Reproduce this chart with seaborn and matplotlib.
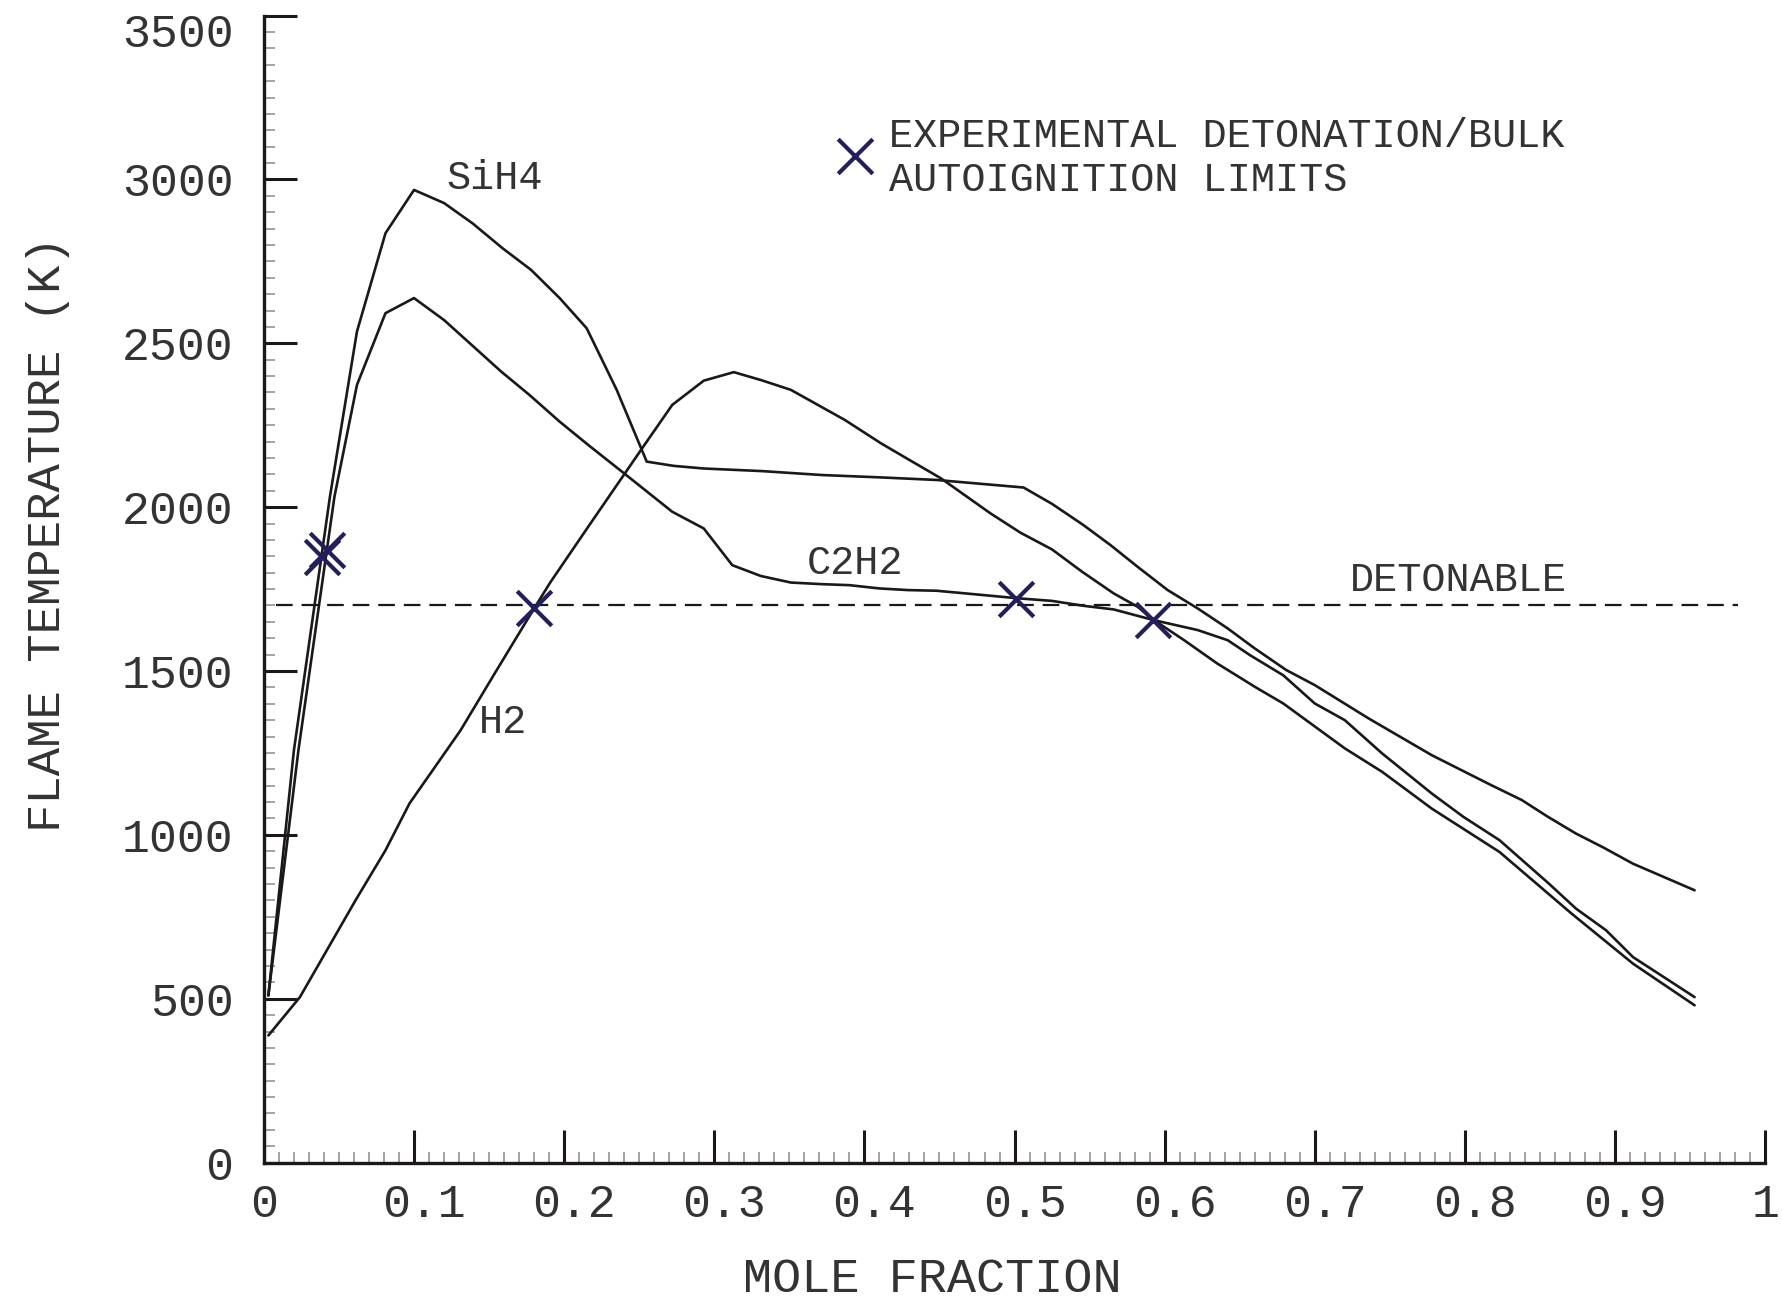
import numpy as np
import pandas as pd
import matplotlib
matplotlib.use("Agg")
import matplotlib.pyplot as plt
import matplotlib.transforms as mtransforms
import seaborn as sns


# Flame temperature vs mole fraction.

sih4_x = [0.003, 0.020, 0.044, 0.062, 0.081, 0.100, 0.120, 0.139, 0.159, 0.178,
          0.197, 0.215, 0.235, 0.255, 0.273, 0.293, 0.332, 0.372, 0.410, 0.448,
          0.506, 0.525, 0.546, 0.564, 0.582, 0.602, 0.622, 0.642, 0.660, 0.681,
          0.700, 0.736, 0.778, 0.817, 0.838, 0.855, 0.874, 0.892, 0.912, 0.953]
sih4_T = [510, 1258, 2032, 2536, 2836, 2968, 2928, 2866, 2790, 2724,
          2638, 2546, 2358, 2139, 2126, 2118, 2110, 2098, 2091, 2083,
          2060, 2010, 1945, 1884, 1818, 1747, 1691, 1630, 1569, 1503,
          1457, 1355, 1243, 1153, 1106, 1056, 1004, 962, 912, 831]

c2h2_x = [0.003, 0.023, 0.047, 0.062, 0.081, 0.100, 0.120, 0.158, 0.177, 0.197,
          0.216, 0.240, 0.272, 0.293, 0.312, 0.331, 0.351, 0.372, 0.390, 0.410,
          0.429, 0.448, 0.467, 0.502, 0.525, 0.546, 0.566, 0.593, 0.622, 0.642,
          0.657, 0.679, 0.700, 0.720, 0.745, 0.778, 0.799, 0.823, 0.856, 0.874,
          0.894, 0.912, 0.953]
c2h2_T = [510, 1258, 2032, 2373, 2592, 2638, 2571, 2414, 2342, 2261,
          2190, 2103, 1986, 1935, 1823, 1790, 1770, 1765, 1762, 1752,
          1747, 1745, 1737, 1722, 1714, 1699, 1688, 1655, 1625, 1594,
          1548, 1487, 1401, 1350, 1248, 1126, 1055, 984, 851, 775,
          709, 627, 505]

h2_x = [0.003, 0.024, 0.061, 0.081, 0.097, 0.131, 0.153, 0.180, 0.191, 0.216,
        0.252, 0.272, 0.293, 0.313, 0.331, 0.351, 0.387, 0.411, 0.430, 0.451,
        0.484, 0.504, 0.525, 0.545, 0.566, 0.582, 0.593, 0.613, 0.635, 0.653,
        0.660, 0.679, 0.720, 0.745, 0.778, 0.823, 0.871, 0.912, 0.953]
h2_T = [388, 505, 800, 953, 1096, 1319, 1487, 1691, 1772, 1940,
        2180, 2312, 2386, 2412, 2388, 2358, 2266, 2195, 2144, 2088,
        1981, 1922, 1871, 1803, 1737, 1696, 1655, 1594, 1523, 1472,
        1452, 1401, 1264, 1192, 1080, 948, 760, 607, 480]

# experimental detonation / bulk autoignition limits
limit_x = [0.039, 0.042, 0.180, 0.501, 0.592]
limit_T = [1848, 1869, 1691, 1719, 1657]

detonable_T = 1700
detonable_span = [0.008, 0.982]

x_ticks = [0, 0.1, 0.2, 0.3, 0.4, 0.5, 0.6, 0.7, 0.8, 0.9, 1]
x_ticklabels = ["0", "0.1", "0.2", "0.3", "0.4", "0.5", "0.6", "0.7", "0.8", "0.9", "1"]
y_ticks = [0, 500, 1000, 1500, 2000, 2500, 3000, 3500]


sns.set_theme(style="ticks")
plt.rcParams['font.family'] = ['Liberation Mono', 'DejaVu Sans Mono']

ink = '#1b1817'
navy = '#231e5e'
txt = '#333333'

fig = plt.figure(figsize=(17.83, 12.99), dpi=100)
fig.patch.set_facecolor('white')
ax = fig.add_axes([0.148, 0.105, 0.842, 0.883])
ax.set_facecolor('white')

for xs, ts in [(sih4_x, sih4_T), (c2h2_x, c2h2_T), (h2_x, h2_T)]:
    sns.lineplot(x=xs, y=ts, sort=False, estimator=None, color=ink,
                 linewidth=1.9, ax=ax)

ax.hlines(detonable_T, detonable_span[0], detonable_span[1], colors=ink,
          linewidth=1.6, linestyles=(0, (7.5, 4)))

sns.scatterplot(x=limit_x, y=limit_T, marker='x', s=620, color=navy,
                linewidth=3.0, ax=ax, zorder=5)

# legend symbol + text
ax.scatter([0.394], [3072], marker='x', s=620, color=navy, linewidth=3.0, zorder=5)
ax.text(0.4167, 3066, "EXPERIMENTAL DETONATION/BULK\nAUTOIGNITION LIMITS",
        ha='left', va='center', fontsize=29, color=txt, linespacing=1.22)

ax.text(0.154, 3003, "SiH4", ha='center', va='center', fontsize=29, color=txt)
ax.text(0.394, 1830, "C2H2", ha='center', va='center', fontsize=29, color=txt)
ax.text(0.159, 1344, "H2", ha='center', va='center', fontsize=29, color=txt)
ax.text(0.796, 1777, "DETONABLE", ha='center', va='center', fontsize=29, color=txt)

ax.set_xlim(0, 1)
ax.set_ylim(0, 3500)
ax.set_xticks(x_ticks)
ax.set_xticklabels(x_ticklabels)
ax.set_yticks(y_ticks)
ax.set_xticks(np.arange(0, 1.0001, 0.01), minor=True)
ax.set_yticks(np.arange(0, 3500.1, 50), minor=True)

ax.tick_params(which='major', direction='in', length=24, width=2.2,
               color=ink, labelcolor=txt, labelsize=33.5)
ax.tick_params(axis='x', which='major', pad=15)
ax.tick_params(axis='y', which='major', pad=22)
ax.tick_params(which='minor', direction='in', length=8, width=1.1, color='#8a8a8a')

# the decimal tick labels sit a little right of their ticks in the original
shift = mtransforms.ScaledTranslation(0.10, 0, fig.dpi_scale_trans)
for lab in ax.get_xticklabels():
    if len(lab.get_text()) > 1:
        lab.set_transform(lab.get_transform() + shift)

# top y label is pushed down below its tick
drop = mtransforms.ScaledTranslation(0, -0.14, fig.dpi_scale_trans)
top_lab = ax.get_yticklabels()[-1]
top_lab.set_transform(top_lab.get_transform() + drop)

sns.despine(ax=ax)
for side in ['left', 'bottom']:
    ax.spines[side].set_linewidth(2.4)
    ax.spines[side].set_color(ink)

ax.set_xlabel("MOLE FRACTION", fontsize=35, color=txt)
ax.xaxis.label.set_va('center')
ax.xaxis.set_label_coords(0.445, -0.102)
ax.set_ylabel("FLAME TEMPERATURE (K)", fontsize=34, color=txt)
ax.yaxis.label.set_va('center')
ax.yaxis.set_label_coords(-0.144, 0.548)

fig.savefig("out.png", dpi=100, facecolor='white')
